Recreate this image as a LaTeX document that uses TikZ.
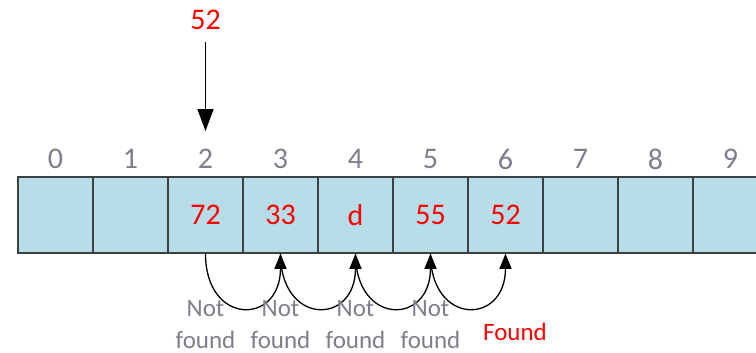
\documentclass[tikz,border=0pt]{standalone}
\usepackage{fontspec}
\setmainfont{Carlito}
\usetikzlibrary{arrows.meta}
\definecolor{cellfill}{RGB}{183,221,232}
\definecolor{cellline}{RGB}{64,64,64}
\definecolor{idxgray}{RGB}{125,128,138}
\definecolor{hit}{RGB}{255,0,0}
\tikzset{
  cell/.style={draw=cellline, line width=1.5pt, fill=cellfill, minimum width=75pt,
    minimum height=76pt, inner sep=0pt, font=\fontsize{30}{30}\selectfont, text=hit},
  idx/.style={font=\fontsize{30}{30}\selectfont, text=idxgray, inner sep=0pt},
  note/.style={font=\fontsize{25}{32}\selectfont, text=idxgray, align=center, inner sep=0pt},
  probe/.style={line width=1.3pt, -{Triangle[length=15pt,width=12pt]}}
}
\begin{document}
\begin{tikzpicture}[x=1pt,y=-1pt]
\clip (0,0) rectangle (756,353);
% array cells with their indices
\foreach \i/\v in {0/,1/,2/72,3/33,4/d,5/55,6/52,7/,8/,9/}{
  \node[cell] (c\i) at ({55.5+75*\i},215) {\v};
  \node[idx] (i\i) at ({55.5+75*\i},159) {\i};
}
% searched key and its hash position
\node[font=\fontsize{30}{30}\selectfont, text=hit, inner sep=0pt] (key) at (205.5,20) {52};
\draw[line width=1.5pt, -{Triangle[length=22pt,width=16pt]}, shorten <=12pt, shorten >=18pt] (key.south) -- (i2.north);
% linear probing steps
\foreach \a/\b in {2/3,3/4,4/5,5/6}{
  \draw[probe] (c\a.south) .. controls +(0,72) and +(0,72) .. (c\b.south);
}
\foreach \i in {2,3,4,5}{
  \node[note, anchor=base] (n\i) at ({55.5+75*\i},348) {Not\\found};
}
\node[font=\fontsize{25}{25}\selectfont, text=hit, inner sep=0pt, anchor=base] (found) at (515,340) {Found};
\end{tikzpicture}
\end{document}
